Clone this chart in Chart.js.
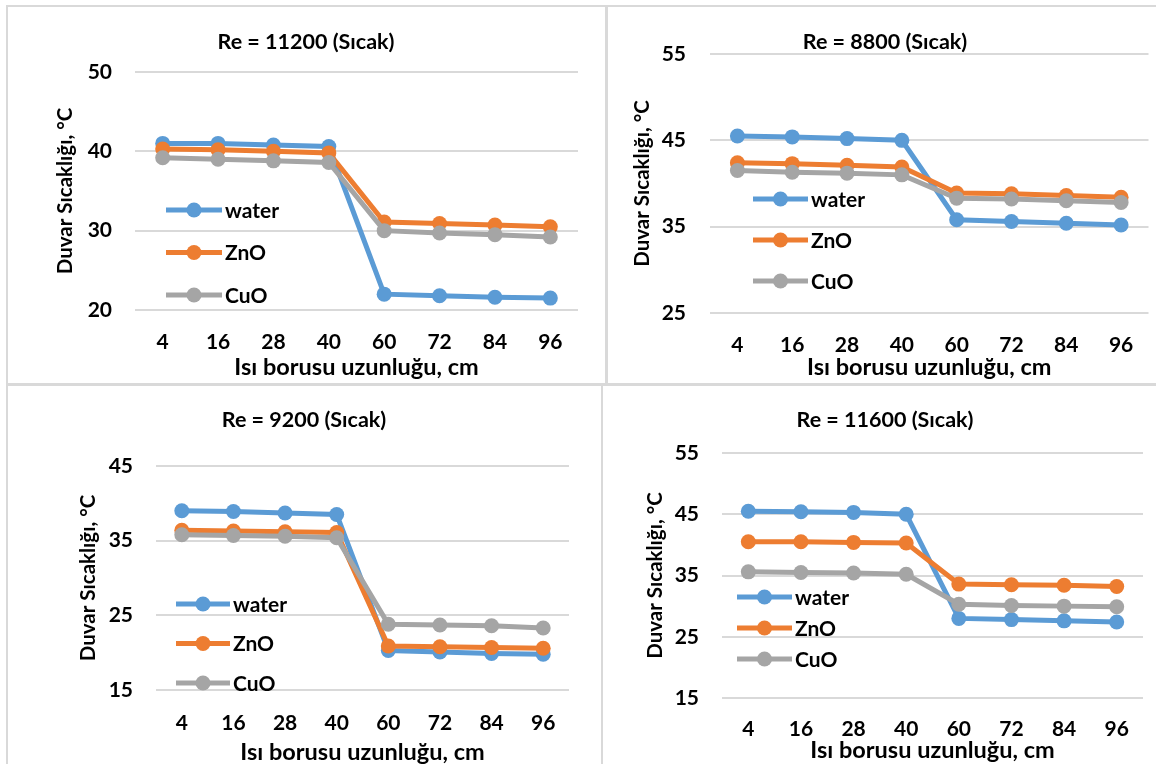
<!DOCTYPE html>
<html>
<head>
<meta charset="utf-8">
<script src="https://cdn.jsdelivr.net/npm/chart.js@4.4.1/dist/chart.umd.min.js"></script>
<style>
  body { margin: 0; background: #fff; width: 1156px; height: 764px; overflow: hidden; position: relative; }
  .panel { position: absolute; border: 2px solid #d9d9d9; box-sizing: border-box; }
  canvas { position: absolute; }
</style>
</head>
<body>
<div class="panel" style="left:6px;top:5px;width:602px;height:380px"></div>
<div class="panel" style="left:605px;top:5px;width:560px;height:380px"></div>
<div class="panel" style="left:6px;top:384px;width:597px;height:390px"></div>
<div class="panel" style="left:601px;top:384px;width:560px;height:390px"></div>

<canvas id="c11200" width="596" height="375" style="left:8px;top:7px"></canvas>
<canvas id="c8800" width="548" height="375" style="left:608px;top:7px"></canvas>
<canvas id="c9200" width="592" height="377" style="left:8px;top:387px"></canvas>
<canvas id="c11600" width="551" height="377" style="left:605px;top:387px"></canvas>

<script>
// --- Data ---
const lengths = ["4", "16", "28", "40", "60", "72", "84", "96"];
const seriesNames = ["water", "ZnO", "CuO"];
const seriesColors = ["#5b9bd5", "#ed7d31", "#a5a5a5"];

const re11200Water = [41.0, 41.0, 40.8, 40.6, 22.0, 21.8, 21.6, 21.5];
const re11200ZnO = [40.3, 40.2, 40.0, 39.8, 31.1, 30.9, 30.7, 30.5];
const re11200CuO = [39.2, 39.0, 38.8, 38.6, 30.0, 29.7, 29.5, 29.2];

const re8800Water = [45.5, 45.4, 45.2, 45.0, 35.8, 35.6, 35.4, 35.2];
const re8800ZnO = [42.4, 42.3, 42.1, 41.9, 38.9, 38.8, 38.6, 38.4];
const re8800CuO = [41.5, 41.3, 41.2, 41.0, 38.3, 38.2, 38.0, 37.8];

const re9200Water = [39.0, 38.9, 38.7, 38.5, 20.3, 20.1, 19.9, 19.8];
const re9200ZnO = [36.4, 36.3, 36.2, 36.1, 20.9, 20.8, 20.7, 20.6];
const re9200CuO = [35.8, 35.7, 35.6, 35.4, 23.8, 23.7, 23.6, 23.3];

const re11600Water = [45.5, 45.4, 45.3, 45.0, 28.0, 27.8, 27.6, 27.4];
const re11600ZnO = [40.5, 40.5, 40.4, 40.3, 33.6, 33.5, 33.4, 33.2];
const re11600CuO = [35.6, 35.5, 35.4, 35.2, 30.3, 30.1, 30.0, 29.9];

const yRange11200 = [20, 50];
const yRange8800 = [25, 55];
const yRange9200 = [15, 45];
const yRange11600 = [15, 55];

const xTitle = "Isı borusu uzunluğu, cm";
const yTitle = "Duvar Sıcaklığı, °C";

// --- Styling ---
const FONT = "Lato, 'Open Sans', sans-serif";
const TICK_FS = 21;
const TITLE_FS = 21.5;
const XT_FS = 23.5;
const YT_FS = 20.5;
const LEG_FS = 21;
Chart.defaults.font.family = FONT;
Chart.defaults.font.weight = "bold";
Chart.defaults.color = "#000";

// legend drawn inside the plot, like the Excel original
const inlineLegend = {
  id: "inlineLegend",
  afterDraw(chart, args, opts) {
    const ctx = chart.ctx;
    ctx.save();
    chart.data.datasets.forEach((ds, i) => {
      const y = opts.y + i * opts.gap;
      ctx.strokeStyle = ds.borderColor;
      ctx.lineWidth = ds.borderWidth;
      ctx.beginPath();
      ctx.moveTo(opts.x, y);
      ctx.lineTo(opts.x + opts.len, y);
      ctx.stroke();
      ctx.fillStyle = ds.borderColor;
      ctx.beginPath();
      ctx.arc(opts.x + opts.len / 2, y, ds.pointRadius, 0, Math.PI * 2);
      ctx.fill();
      ctx.fillStyle = "#000";
      ctx.font = "bold " + LEG_FS + "px " + FONT;
      ctx.textBaseline = "middle";
      ctx.fillText(ds.label, opts.x + opts.len + 3, y + 1);
    });
    ctx.restore();
  },
};

// f: page coordinates of plot area and text anchors
function makeChart(id, canvasPos, f, titleText, series, yRange) {
  const cx = canvasPos[0], cy = canvasPos[1];
  const el = document.getElementById(id);
  const cw = el.width, ch = el.height;
  const axisLeft = 2 * f.titleX - f.r;
  const titleLH = TITLE_FS * 1.2, xtLH = XT_FS * 1.2, ytLH = YT_FS * 1.2, tickLH = TICK_FS * 1.2;
  const titlePadTop = f.titleY - cy - titleLH / 2;

  return new Chart(el, {
    type: "line",
    data: {
      labels: lengths,
      datasets: series.map((d, i) => ({
        label: seriesNames[i],
        data: d,
        borderColor: seriesColors[i],
        backgroundColor: seriesColors[i],
        borderWidth: 5,
        pointRadius: 7.5,
        pointBorderWidth: 0,
        tension: 0,
        order: 3 - i,
      })),
    },
    options: {
      responsive: false,
      animation: false,
      layout: {
        padding: {
          left: axisLeft - cx,
          right: cx + cw - f.r,
          top: 0,
          bottom: cy + ch - (f.xTitleY + xtLH / 2),
        },
      },
      plugins: {
        legend: { display: false },
        tooltip: { enabled: false },
        title: {
          display: true,
          text: titleText,
          font: { size: TITLE_FS, weight: "bold" },
          color: "#000",
          padding: { top: titlePadTop, bottom: f.t - cy - titlePadTop - titleLH },
        },
        inlineLegend: {
          x: f.legX - cx,
          y: f.legY - cy,
          gap: f.legGap,
          len: f.legLen,
        },
      },
      scales: {
        x: {
          offset: true,
          grid: { display: false },
          border: { display: false },
          ticks: { font: { size: TICK_FS }, padding: f.xTickY - f.b - tickLH / 2 - 7, color: "#000" },
          title: { display: true, text: xTitle, font: { size: XT_FS }, color: "#000", padding: 0 },
          afterFit: (s) => { s.height = f.xTitleY + xtLH / 2 - f.b; },
        },
        y: {
          min: yRange[0],
          max: yRange[1],
          grid: { color: "#d9d9d9", lineWidth: 2, drawTicks: false },
          border: { display: false },
          ticks: { stepSize: 10, font: { size: TICK_FS }, padding: f.l - f.yTickR, color: "#000" },
          title: {
            display: true,
            text: yTitle,
            font: { size: YT_FS },
            color: "#000",
            padding: { top: f.yTitleX - ytLH / 2 - axisLeft, bottom: 0 },
          },
          afterFit: (s) => { s.width = f.l - axisLeft; },
        },
      },
    },
    plugins: [inlineLegend],
  });
}

makeChart("c11200", [8, 7], {
  l: 135, r: 578, t: 72, b: 310,
  titleX: 306, titleY: 42, yTitleX: 65, yTickR: 112, xTickY: 341, xTitleY: 367,
  legX: 166, legY: 210, legGap: 42.5, legLen: 56,
}, "Re = 11200 (Sıcak)", [re11200Water, re11200ZnO, re11200CuO], yRange11200);

makeChart("c8800", [608, 7], {
  l: 710, r: 1153, t: 54, b: 313,
  titleX: 885, titleY: 42, yTitleX: 642, yTickR: 686, xTickY: 344, xTitleY: 367,
  legX: 753, legY: 199, legGap: 41, legLen: 55,
}, "Re = 8800 (Sıcak)", [re8800Water, re8800ZnO, re8800CuO], yRange8800);

makeChart("c9200", [8, 387], {
  l: 156, r: 569, t: 466, b: 690,
  titleX: 304, titleY: 420, yTitleX: 88, yTickR: 133, xTickY: 722, xTitleY: 752,
  legX: 176, legY: 604, legGap: 39.5, legLen: 54,
}, "Re = 9200 (Sıcak)", [re9200Water, re9200ZnO, re9200CuO], yRange9200);

makeChart("c11600", [605, 387], {
  l: 722, r: 1143, t: 453, b: 698,
  titleX: 885, titleY: 420, yTitleX: 655, yTickR: 699, xTickY: 728, xTitleY: 750,
  legX: 737, legY: 597, legGap: 31, legLen: 55,
}, "Re = 11600 (Sıcak)", [re11600Water, re11600ZnO, re11600CuO], yRange11600);
</script>
</body>
</html>
